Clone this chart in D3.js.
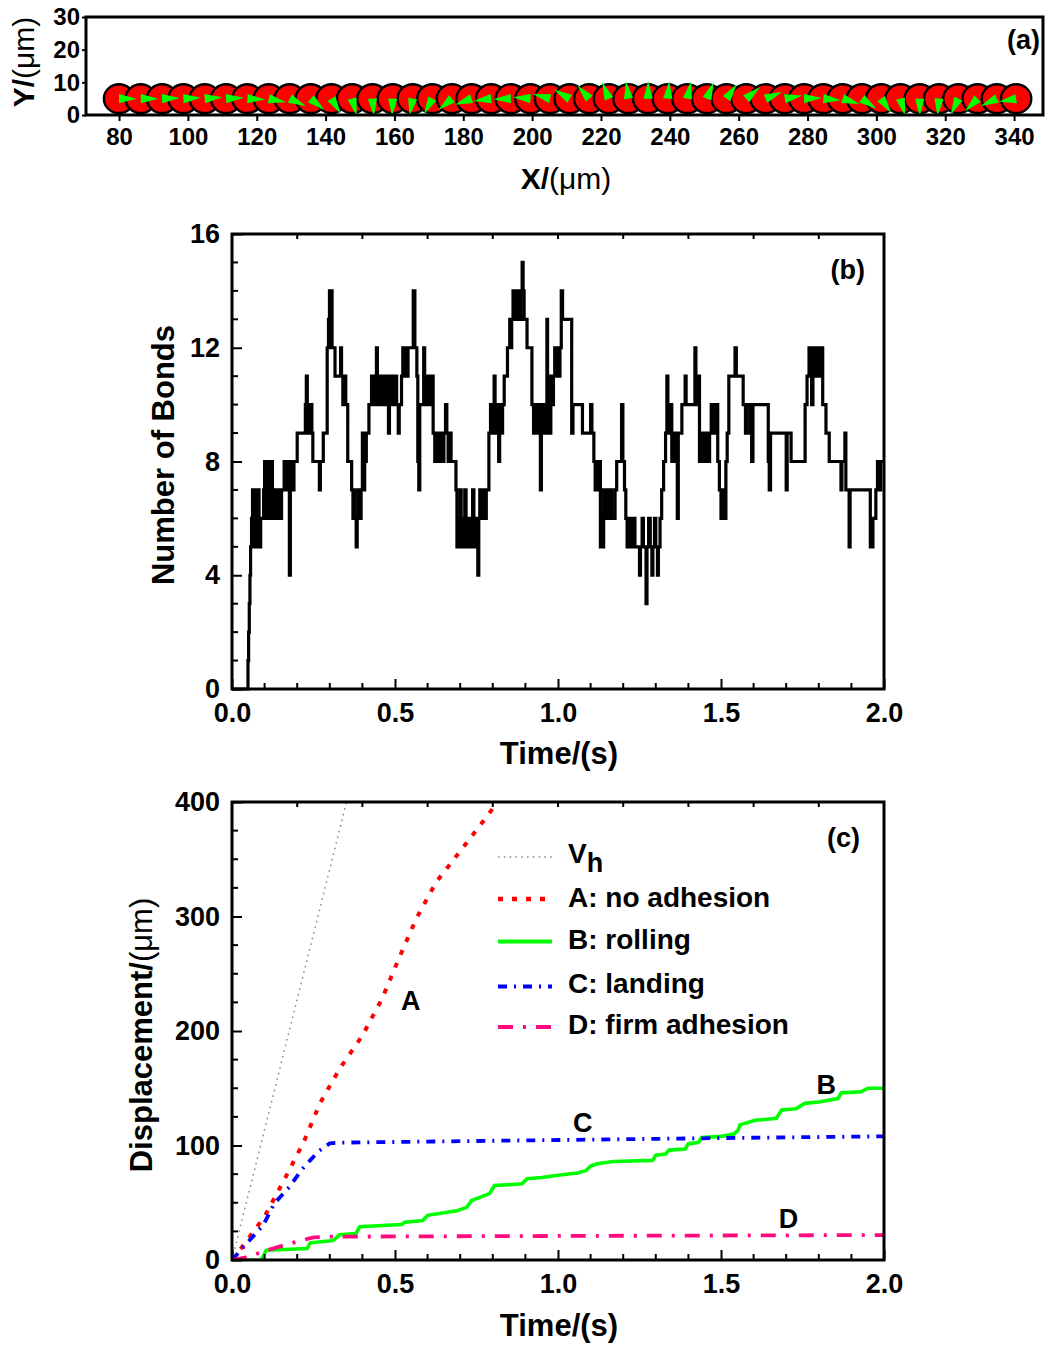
<!DOCTYPE html>
<html><head><meta charset="utf-8">
<script src="https://cdn.jsdelivr.net/npm/d3@7"></script>
<style>
body{margin:0;background:#fff;}
svg{display:block;background:#fff;}
text{font-family:"Liberation Sans",Arial,sans-serif;font-weight:bold;fill:#000;}
</style>
</head><body>
<svg id="chart" width="1050" height="1346"></svg>
<script>
// ---------------- Panel (a): cell positions and marker angles ----------------
const cellX = [80.0, 86.3, 92.5, 98.7, 104.9, 111.1, 117.3, 123.5, 129.6, 135.7, 141.7, 147.7, 153.6, 159.5,
  165.3, 171.0, 176.7, 182.4, 188.1, 193.8, 199.5, 205.2, 210.9, 216.6, 222.3, 228.0, 233.7, 239.4, 245.1, 250.8, 256.5,
  262.2, 267.8, 273.4, 279.0, 284.6, 290.2, 295.8, 301.4, 307.0, 312.6, 318.2, 323.8, 329.4, 335.0, 340.6];
const cellAngle = [0, 0, -2, -3, -5, -3, 3, 12, 25, 40, 58, 75, 85, 92,
  100, 118, 140, 160, 172, 178, 185, 195, 210, 228, 248, 262, 270, 275, 282, 292, 305,
  320, 338, 350, 358, 365, 378, 395, 415, 435, 450, 455, 475, 495, 515, 530];
const cellY = 5;
const cellR = 4.4;
const aXTicks = [80, 100, 120, 140, 160, 180, 200, 220, 240, 260, 280, 300, 320, 340];
const aYTicks = [0, 10, 20, 30];

// ---------------- Panel (b): number of bonds (step series) ----------------
const bondTimes = [0.000,0.049,0.051,0.053,0.055,0.057,0.060,0.063,0.067,0.070,0.072,0.075,0.077,0.080,0.083,0.086,0.088,0.097,0.100,0.103,0.106,0.109,0.112,0.115,0.118,0.121,0.124,0.128,0.131,0.134,0.138,0.141,0.145,0.152,0.160,0.163,0.170,0.174,0.176,0.179,0.181,0.184,0.190,0.200,0.225,0.228,0.231,0.234,0.237,0.240,0.245,0.248,0.268,0.271,0.280,0.292,0.296,0.299,0.302,0.304,0.307,0.316,0.333,0.336,0.340,0.345,0.349,0.355,0.367,0.371,0.375,0.378,0.381,0.384,0.388,0.392,0.396,0.400,0.403,0.407,0.412,0.420,0.428,0.434,0.437,0.440,0.443,0.446,0.450,0.453,0.457,0.460,0.464,0.468,0.472,0.476,0.480,0.483,0.487,0.491,0.495,0.500,0.505,0.510,0.513,0.520,0.524,0.528,0.531,0.535,0.540,0.556,0.561,0.567,0.570,0.573,0.576,0.588,0.591,0.595,0.599,0.603,0.607,0.612,0.617,0.622,0.626,0.630,0.634,0.638,0.642,0.646,0.650,0.655,0.659,0.663,0.667,0.672,0.687,0.690,0.694,0.697,0.700,0.703,0.706,0.710,0.714,0.718,0.722,0.726,0.730,0.734,0.738,0.742,0.746,0.750,0.754,0.757,0.760,0.764,0.768,0.775,0.780,0.788,0.793,0.797,0.801,0.804,0.807,0.811,0.815,0.818,0.821,0.826,0.830,0.835,0.845,0.852,0.855,0.858,0.862,0.866,0.870,0.874,0.878,0.882,0.886,0.890,0.893,0.896,0.905,0.920,0.925,0.930,0.935,0.940,0.944,0.946,0.949,0.953,0.957,0.962,0.966,0.968,0.972,0.975,0.978,0.982,0.986,0.990,0.994,0.998,1.002,1.006,1.010,1.014,1.042,1.046,1.075,1.100,1.104,1.110,1.114,1.117,1.122,1.126,1.130,1.134,1.137,1.140,1.144,1.150,1.155,1.160,1.165,1.175,1.180,1.195,1.199,1.204,1.208,1.212,1.216,1.220,1.224,1.228,1.232,1.236,1.250,1.253,1.258,1.262,1.270,1.273,1.278,1.283,1.288,1.291,1.296,1.300,1.305,1.308,1.313,1.318,1.324,1.330,1.334,1.337,1.341,1.345,1.349,1.352,1.356,1.362,1.366,1.369,1.380,1.390,1.393,1.420,1.423,1.430,1.434,1.438,1.442,1.446,1.450,1.455,1.460,1.465,1.470,1.474,1.478,1.482,1.486,1.490,1.495,1.500,1.505,1.510,1.515,1.519,1.524,1.543,1.547,1.568,1.575,1.580,1.590,1.594,1.598,1.645,1.648,1.652,1.700,1.703,1.715,1.758,1.764,1.770,1.773,1.778,1.782,1.787,1.791,1.795,1.799,1.803,1.808,1.812,1.822,1.832,1.868,1.871,1.880,1.883,1.893,1.896,1.958,1.966,1.975,1.980,1.985,1.990,2.000];
const bondCounts = [0,1,2,3,4,5,6,7,5,6,7,6,5,7,6,5,6,7,8,6,8,7,8,6,7,8,6,7,6,7,6,7,6,7,8,7,8,7,4,7,8,7,8,9,10,11,9,10,9,10,9,8,7,8,9,12,13,14,12,14,12,11,12,11,10,11,10,8,7,6,7,6,5,6,7,6,7,9,7,8,9,10,11,10,11,10,12,11,10,11,10,11,10,11,10,11,9,11,10,11,10,11,10,9,10,11,12,11,12,11,12,14,12,11,8,7,10,12,10,11,10,11,10,11,9,8,9,8,9,8,9,8,9,10,9,8,9,8,7,5,6,5,7,5,6,5,7,5,6,5,6,5,7,6,5,6,4,6,7,6,7,6,7,9,10,9,10,11,9,10,9,8,10,9,10,11,12,13,12,13,14,13,14,13,14,13,14,15,14,13,12,10,9,10,9,10,9,7,10,9,10,9,13,10,11,9,11,10,11,12,11,12,11,12,14,13,9,10,9,10,9,8,7,8,7,8,5,6,5,7,6,7,6,7,6,7,8,10,8,7,6,5,6,5,6,5,6,5,4,5,6,5,3,5,6,5,4,5,6,5,4,5,6,7,8,9,11,10,9,10,8,9,8,9,6,9,10,11,10,12,10,11,8,9,8,9,8,9,8,9,10,9,10,9,10,8,7,6,7,6,8,9,11,12,11,10,9,10,9,8,10,8,7,9,7,9,8,10,11,12,11,10,12,11,12,11,12,11,12,10,9,8,7,8,9,7,5,7,5,6,7,8,7,8,8];
const bXTicks = [0, 0.5, 1.0, 1.5, 2.0];
const bYTicks = [0, 4, 8, 12, 16];

// ---------------- Panel (c): displacement curves ----------------
const vhTimes = [0, 0.36];
const vhDisp  = [0, 410];
const aTimes = [0, 0.024, 0.10, 0.16, 0.22, 0.27, 0.33, 0.40, 0.46, 0.51, 0.565, 0.626, 0.70, 0.77, 0.815, 0.83];
const aDisp  = [0, 8.7, 38, 70, 103, 137, 167, 196, 228, 262, 298, 330, 357, 383, 400, 408];
const bTimes = [0, 0.09, 0.105, 0.23, 0.24, 0.31, 0.33, 0.38, 0.392, 0.52, 0.53, 0.585, 0.60, 0.69, 0.70, 0.72, 0.735, 0.79, 0.805, 0.89, 0.905, 0.95, 1.0, 1.06, 1.085, 1.10, 1.12, 1.17, 1.29, 1.30, 1.33, 1.34, 1.39, 1.40, 1.43, 1.44, 1.50, 1.54, 1.553, 1.558, 1.605, 1.67, 1.686, 1.73, 1.757, 1.80, 1.859, 1.869, 1.93, 1.951, 2.0];
const bDisp  = [0, 0, 8.5, 10, 15, 17, 22, 23, 29, 31, 33, 34.5, 39, 43, 44, 46, 52, 58, 65, 66.5, 71, 72, 74, 76, 78, 82, 84, 86, 87, 91.5, 92.5, 96, 97, 101.5, 102.5, 107, 108, 110, 113.5, 118, 122, 123.7, 131, 132, 136.8, 138, 141, 146, 147, 150, 150];
const cTimes = [0, 0.05, 0.096, 0.13, 0.177, 0.213, 0.264, 0.30, 0.33, 1.0, 1.5, 2.0];
const cDisp  = [0, 16, 30.6, 49.5, 64, 78.6, 94.6, 101.9, 102.5, 104.8, 106.5, 108];
const dTimes = [0, 0.04, 0.11, 0.18, 0.25, 0.30, 1.0, 2.0];
const dDisp  = [0, 2, 8.7, 14.6, 19.8, 20.4, 21, 21.8];
const cXTicks = [0, 0.5, 1.0, 1.5, 2.0];
const cYTicks = [0, 100, 200, 300, 400];
const legendLabels = ["V", "A: no adhesion", "B: rolling", "C: landing", "D: firm adhesion"];
const curveLetters = ["A", "B", "C", "D"];

// ---------------- Drawing ----------------
const svg = d3.select("#chart");
svg.append("rect").attr("width", 1050).attr("height", 1346).attr("fill", "#fff");

function styleAxis(g, fs) {
  g.select(".domain").remove();
  g.selectAll(".tick line").attr("stroke", "#000").attr("stroke-width", 2);
  g.selectAll(".tick text").attr("font-size", fs).attr("font-family", '"Liberation Sans",Arial,sans-serif')
    .attr("font-weight", "bold").attr("fill", "#000");
}
function minorTicks(g, scale, values, orient, len) {
  g.selectAll(null).data(values).enter().append("line")
    .attr("stroke", "#000").attr("stroke-width", 2)
    .each(function(v) {
      const s = d3.select(this);
      if (orient === "bottom") s.attr("x1", scale(v)).attr("x2", scale(v)).attr("y1", 0).attr("y2", -len);
      if (orient === "top") s.attr("x1", scale(v)).attr("x2", scale(v)).attr("y1", 0).attr("y2", len);
      if (orient === "left") s.attr("y1", scale(v)).attr("y2", scale(v)).attr("x1", 0).attr("x2", len);
    });
}
function unitTitle(t, main) {
  t.append("tspan").text(main);
  t.append("tspan").attr("font-weight", "normal").text("(\u03bcm)");
}

// ===== Panel (a)
const xA = d3.scaleLinear().domain([70.4, 348.4]).range([86, 1043]);
const yA = d3.scaleLinear().domain([0, 30]).range([115, 17]);
const gA = svg.append("g");
const cells = d3.range(cellX.length).map(i => ({x: cellX[i], a: cellAngle[i]}));
gA.selectAll("ellipse").data(cells).enter().append("ellipse")
  .attr("cx", d => xA(d.x)).attr("cy", yA(cellY))
  .attr("rx", d => xA(d.x + cellR) - xA(d.x)).attr("ry", yA(cellY) - yA(cellY + cellR))
  .attr("fill", "#ff0000").attr("stroke", "#000").attr("stroke-width", 2.4);
gA.selectAll("path.mark").data(cells).enter().append("path").attr("class", "mark")
  .attr("fill", "#00ff00")
  .attr("d", d => {
    const cx = xA(d.x), cy = yA(cellY);
    const L = xA(d.x + cellR) - xA(d.x) + 2.5, w = 4.6;
    const r = d.a * Math.PI / 180;
    const ux = Math.cos(r), uy = Math.sin(r);
    return `M${cx - uy * w},${cy + ux * w}L${cx + uy * w},${cy - ux * w}L${cx + ux * L},${cy + uy * L}Z`;
  });
gA.append("rect").attr("x", 86).attr("y", 17).attr("width", 1043 - 86).attr("height", 115 - 17)
  .attr("fill", "none").attr("stroke", "#000").attr("stroke-width", 3);
const axA = svg.append("g").attr("transform", "translate(0,115)")
  .call(d3.axisBottom(xA).tickValues(aXTicks).tickSize(6).tickPadding(7));
styleAxis(axA, 24);
const ayA = svg.append("g").attr("transform", "translate(86,0)")
  .call(d3.axisLeft(yA).tickValues(aYTicks).tickSize(4).tickPadding(2));
styleAxis(ayA, 24);
svg.append("text").attr("x", 1040).attr("y", 49).attr("text-anchor", "end").attr("font-size", 27).text("(a)");
unitTitle(svg.append("text").attr("x", 566).attr("y", 189).attr("text-anchor", "middle").attr("font-size", 30), "X/");
unitTitle(svg.append("text").attr("transform", "translate(34,62) rotate(-90)").attr("text-anchor", "middle").attr("font-size", 30), "Y/");

// ===== Panel (b)
const xB = d3.scaleLinear().domain([0, 2]).range([232, 884]);
const yB = d3.scaleLinear().domain([0, 16]).range([689, 234]);
const gB = svg.append("g");
gB.append("path").datum(d3.zip(bondTimes, bondCounts))
  .attr("fill", "none").attr("stroke", "#000").attr("stroke-width", 3.2).attr("stroke-linejoin", "miter")
  .attr("d", d3.line().x(d => xB(d[0])).y(d => yB(d[1])).curve(d3.curveStepAfter));
gB.append("rect").attr("x", 232).attr("y", 234).attr("width", 884 - 232).attr("height", 689 - 234)
  .attr("fill", "none").attr("stroke", "#000").attr("stroke-width", 3);
const bxAx = svg.append("g").attr("transform", "translate(0,689)")
  .call(d3.axisBottom(xB).tickValues(bXTicks).tickSize(-10).tickPadding(14).tickFormat(d3.format(".1f")));
styleAxis(bxAx, 27);
minorTicks(svg.append("g").attr("transform", "translate(0,689)"), xB, d3.range(0.1, 2.0, 0.1).filter(v => Math.abs(v * 2 - Math.round(v * 2)) > 1e-6), "bottom", 6);
minorTicks(svg.append("g").attr("transform", "translate(0,234)"), xB, d3.range(0.2, 1.9, 0.2), "top", 5);
const byAx = svg.append("g").attr("transform", "translate(232,0)")
  .call(d3.axisLeft(yB).tickValues(bYTicks).tickSize(-10).tickPadding(12));
styleAxis(byAx, 27);
minorTicks(svg.append("g").attr("transform", "translate(232,0)"), yB, d3.range(1, 16).filter(v => v % 4 !== 0), "left", 6);
svg.append("text").attr("x", 865).attr("y", 279).attr("text-anchor", "end").attr("font-size", 27).text("(b)");
svg.append("text").attr("x", 559).attr("y", 764).attr("text-anchor", "middle").attr("font-size", 31).text("Time/(s)");
svg.append("text").attr("transform", "translate(174,455) rotate(-90)").attr("text-anchor", "middle").attr("font-size", 31).text("Number of Bonds");

// ===== Panel (c)
const xC = d3.scaleLinear().domain([0, 2]).range([232, 884]);
const yC = d3.scaleLinear().domain([0, 400]).range([1260, 802]);
svg.append("clipPath").attr("id", "clipC").append("rect")
  .attr("x", 232).attr("y", 802).attr("width", 884 - 232).attr("height", 1260 - 802);
const gC = svg.append("g").attr("clip-path", "url(#clipC)");
const lineC = d3.line().x(d => xC(d[0])).y(d => yC(d[1]));
const series = [
  {t: vhTimes, d: vhDisp, color: "#8c8c8c", w: 1.5, dash: "1.6,4.2"},
  {t: aTimes, d: aDisp, color: "#ff0000", w: 4, dash: "5,9"},
  {t: bTimes, d: bDisp, color: "#00ff00", w: 3.6, dash: null},
  {t: cTimes, d: cDisp, color: "#0000ff", w: 3.8, dash: "9,7,2,7"},
  {t: dTimes, d: dDisp, color: "#ff0a7f", w: 3.8, dash: "15,10,3,10"}
];
series.forEach(s => {
  gC.append("path").datum(d3.zip(s.t, s.d)).attr("fill", "none")
    .attr("stroke", s.color).attr("stroke-width", s.w)
    .attr("stroke-dasharray", s.dash).attr("d", lineC);
});
svg.append("rect").attr("x", 232).attr("y", 802).attr("width", 884 - 232).attr("height", 1260 - 802)
  .attr("fill", "none").attr("stroke", "#000").attr("stroke-width", 3);
const cxAx = svg.append("g").attr("transform", "translate(0,1260)")
  .call(d3.axisBottom(xC).tickValues(cXTicks).tickSize(-10).tickPadding(14).tickFormat(d3.format(".1f")));
styleAxis(cxAx, 27);
minorTicks(svg.append("g").attr("transform", "translate(0,1260)"), xC, d3.range(0.1, 2.0, 0.1).filter(v => Math.abs(v * 2 - Math.round(v * 2)) > 1e-6), "bottom", 6);
minorTicks(svg.append("g").attr("transform", "translate(0,802)"), xC, d3.range(0.2, 1.9, 0.2), "top", 5);
const cyAx = svg.append("g").attr("transform", "translate(232,0)")
  .call(d3.axisLeft(yC).tickValues(cYTicks).tickSize(-10).tickPadding(12));
styleAxis(cyAx, 27);
minorTicks(svg.append("g").attr("transform", "translate(232,0)"), yC, d3.range(25, 400, 25).filter(v => v % 100 !== 0), "left", 6);
svg.append("text").attr("x", 860).attr("y", 847).attr("text-anchor", "end").attr("font-size", 27).text("(c)");
svg.append("text").attr("x", 559).attr("y", 1336).attr("text-anchor", "middle").attr("font-size", 31).text("Time/(s)");
unitTitle(svg.append("text").attr("transform", "translate(152,1035) rotate(-90)").attr("text-anchor", "middle").attr("font-size", 31), "Displacement/");

// legend
const legY = [857, 899, 941.5, 986.5, 1027];
const legBase = [863, 907, 949, 993, 1034];
series.forEach((s, i) => {
  svg.append("line").attr("x1", 498).attr("x2", 552).attr("y1", legY[i]).attr("y2", legY[i])
    .attr("stroke", s.color).attr("stroke-width", i === 0 ? 1.5 : s.w + 0.4).attr("stroke-dasharray", s.dash);
  const t = svg.append("text").attr("x", 568).attr("y", legBase[i]).attr("font-size", 28);
  t.append("tspan").text(legendLabels[i]);
  if (i === 0) t.append("tspan").attr("dy", 9).attr("font-size", 27).text("h");
});
// curve letters
const letterPos = [[0.548, 218], [1.823, 145], [1.076, 112], [1.707, 28]];
curveLetters.forEach((L, i) => {
  svg.append("text").attr("x", xC(letterPos[i][0])).attr("y", yC(letterPos[i][1])).attr("text-anchor", "middle").attr("font-size", 27).text(L);
});
</script>
</body></html>
